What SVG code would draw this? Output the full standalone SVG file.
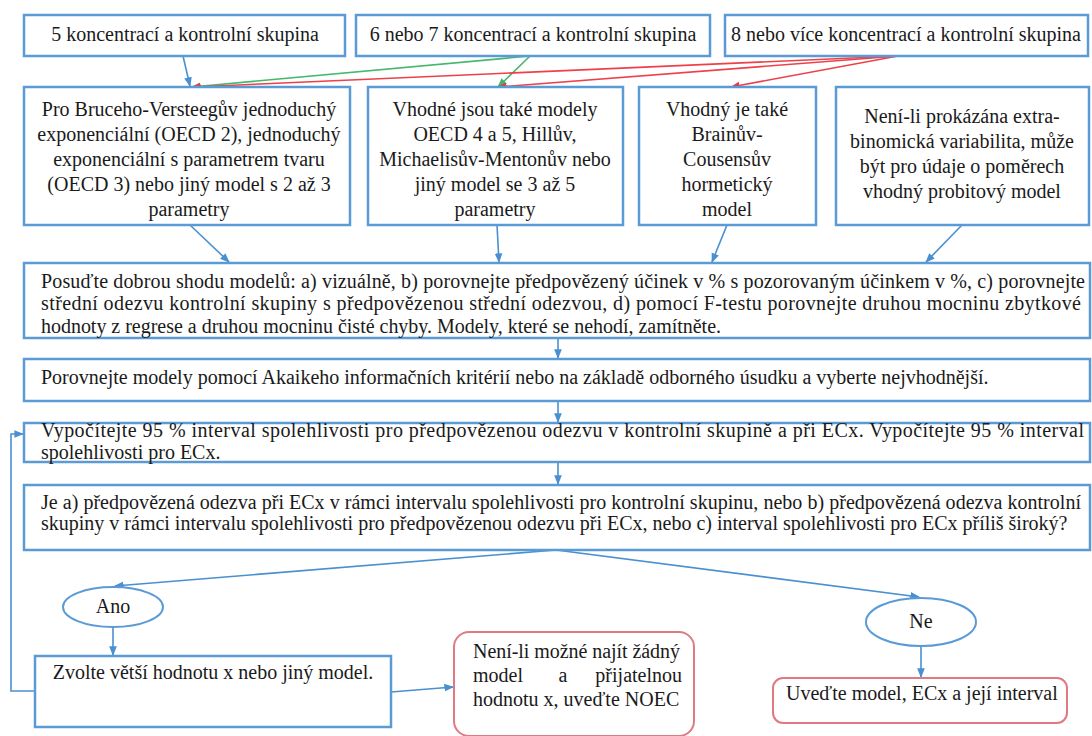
<svg xmlns="http://www.w3.org/2000/svg" width="1092" height="736" viewBox="0 0 1092 736">
<defs>
<marker id="ab" viewBox="0 0 10 10" refX="9" refY="5" markerWidth="6" markerHeight="6" orient="auto"><path d="M0,1 L10,5 L0,9 z" fill="#4a90d0"/></marker>
<marker id="ar" viewBox="0 0 10 10" refX="9" refY="5" markerWidth="6" markerHeight="6" orient="auto"><path d="M0,1 L10,5 L0,9 z" fill="#e8393f"/></marker>
<marker id="ag" viewBox="0 0 10 10" refX="9" refY="5" markerWidth="6" markerHeight="6" orient="auto"><path d="M0,1 L10,5 L0,9 z" fill="#3fb46a"/></marker>
<style>
.box{fill:#fff;stroke:#5b9bd5;stroke-width:2.5}
.rbox{fill:#fff;stroke:#e07a80;stroke-width:2}
.ell{fill:#fff;stroke:#5b9bd5;stroke-width:2}
.t{font-family:'Liberation Serif',serif;font-size:20px;fill:#1a1a1a}
.c{text-anchor:middle}
.lb{stroke:#4a90d0;stroke-width:1.6;fill:none}
.lr{stroke:#ee4048;stroke-width:1.6;fill:none}
.lg{stroke:#45b86c;stroke-width:1.6;fill:none}
</style>
</defs>
<rect width="1092" height="736" fill="#fff"/>
<g id="connectors">
<path class="lb" d="M183,56 L190,86" marker-end="url(#ab)"/>
<path class="lg" d="M530,56 L192,87" marker-end="url(#ag)"/>
<path class="lg" d="M530,56 L498,87" marker-end="url(#ag)"/>
<path class="lr" d="M898,56 L192,87" marker-end="url(#ar)"/>
<path class="lr" d="M898,56 L498,87" marker-end="url(#ar)"/>
<path class="lr" d="M898,56 L731,87" marker-end="url(#ar)"/>
<path class="lb" d="M190,225 L229,262" marker-end="url(#ab)"/>
<path class="lb" d="M497,225 L499,262" marker-end="url(#ab)"/>
<path class="lb" d="M727,225 L712,262" marker-end="url(#ab)"/>
<path class="lb" d="M962,225 L926,262" marker-end="url(#ab)"/>
<path class="lb" d="M558,338 L558,358" marker-end="url(#ab)"/>
<path class="lb" d="M558,401 L558,422" marker-end="url(#ab)"/>
<path class="lb" d="M558,462 L558,484" marker-end="url(#ab)"/>
<path class="lb" d="M556,550 L115,586" marker-end="url(#ab)"/>
<path class="lb" d="M556,550 L919,597" marker-end="url(#ab)"/>
<path class="lb" d="M113,627 L113,655" marker-end="url(#ab)"/>
<path class="lb" d="M921,646 L921,677" marker-end="url(#ab)"/>
<path class="lb" d="M391,692 L453,687" marker-end="url(#ab)"/>
<path class="lb" d="M35,691 L11,691 L11,434 L23,434" marker-end="url(#ab)"/>
</g>
<g font-family="Liberation Serif, serif">
<g id="n1"><rect class="box" x="24" y="15" width="321" height="41"/><text class="t c" x="185" y="41">5 koncentrací a kontrolní skupina</text></g>
<g id="n2"><rect class="box" x="356" y="15" width="354" height="41"/><text class="t c" x="533" y="41">6 nebo 7 koncentrací a kontrolní skupina</text></g>
<g id="n3"><rect class="box" x="725" y="15" width="363" height="41"/><text class="t c" x="906" y="41">8 nebo více koncentrací a kontrolní skupina</text></g>
<g id="nA"><rect class="box" x="24" y="87" width="326" height="138"/>
<text class="t c"><tspan x="189" y="116">Pro Bruceho-Versteegův jednoduchý</tspan><tspan x="189" y="141">exponenciální (OECD 2), jednoduchý</tspan><tspan x="189" y="166">exponenciální s parametrem tvaru</tspan><tspan x="189" y="191">(OECD 3) nebo jiný model s 2 až 3</tspan><tspan x="189" y="216">parametry</tspan></text></g>
<g id="nB"><rect class="box" x="368" y="87" width="255" height="138"/>
<text class="t c"><tspan x="495" y="116">Vhodné jsou také modely</tspan><tspan x="495" y="141">OECD 4 a 5, Hillův,</tspan><tspan x="495" y="166">Michaelisův-Mentonův nebo</tspan><tspan x="495" y="191">jiný model se 3 až 5</tspan><tspan x="495" y="216">parametry</tspan></text></g>
<g id="nC"><rect class="box" x="639" y="87" width="177" height="138"/>
<text class="t c"><tspan x="727" y="116">Vhodný je také</tspan><tspan x="727" y="141">Brainův-</tspan><tspan x="727" y="166">Cousensův</tspan><tspan x="727" y="191">hormetický</tspan><tspan x="727" y="216">model</tspan></text></g>
<g id="nD"><rect class="box" x="836" y="87" width="253" height="138"/>
<text class="t c"><tspan x="962" y="123">Není-li prokázána extra-</tspan><tspan x="962" y="148">binomická variabilita, může</tspan><tspan x="962" y="173">být pro údaje o poměrech</tspan><tspan x="962" y="198">vhodný probitový model</tspan></text></g>
<g id="nP"><rect class="box" x="24" y="263" width="1066" height="75"/>
<text class="t"><tspan x="41" y="288" textLength="1044" lengthAdjust="spacing">Posuďte dobrou shodu modelů: a) vizuálně, b) porovnejte předpovězený účinek v % s pozorovaným účinkem v %, c) porovnejte</tspan><tspan x="41" y="310" textLength="1040" lengthAdjust="spacing">střední odezvu kontrolní skupiny s předpovězenou střední odezvou, d) pomocí F-testu porovnejte druhou mocninu zbytkové</tspan><tspan x="41" y="333" textLength="680" lengthAdjust="spacing">hodnoty z regrese a druhou mocninu čisté chyby. Modely, které se nehodí, zamítněte.</tspan></text></g>
<g id="nQ"><rect class="box" x="24" y="359" width="1066" height="42"/>
<text class="t" x="41" y="384">Porovnejte modely pomocí Akaikeho informačních kritérií nebo na základě odborného úsudku a vyberte nejvhodnější.</text></g>
<g id="nV"><rect class="box" x="24" y="423" width="1066" height="39"/>
<text class="t"><tspan x="41" y="437" textLength="1043" lengthAdjust="spacing">Vypočítejte 95 % interval spolehlivosti pro předpovězenou odezvu v kontrolní skupině a při ECx. Vypočítejte 95 % interval</tspan><tspan x="41" y="459">spolehlivosti pro ECx.</tspan></text></g>
<g id="nJ"><rect class="box" x="24" y="485" width="1066" height="65"/>
<text class="t"><tspan x="41" y="509" textLength="1040" lengthAdjust="spacing">Je a) předpovězená odezva při ECx v rámci intervalu spolehlivosti pro kontrolní skupinu, nebo b) předpovězená odezva kontrolní</tspan><tspan x="41" y="530">skupiny v rámci intervalu spolehlivosti pro předpovězenou odezvu při ECx, nebo c) interval spolehlivosti pro ECx příliš široký?</tspan></text></g>
<g id="nAno"><ellipse class="ell" cx="113" cy="607" rx="50" ry="20"/><text class="t c" x="113" y="613">Ano</text></g>
<g id="nZ"><rect class="box" x="35" y="656" width="356" height="71"/><text class="t c" x="213" y="679">Zvolte větší hodnotu x nebo jiný model.</text></g>
<g id="nN"><rect class="rbox" x="454" y="632" width="240" height="104" rx="15"/>
<text class="t"><tspan x="473" y="658" textLength="207" lengthAdjust="spacing">Není-li možné najít žádný</tspan><tspan x="473" y="682">model</tspan><tspan x="563" y="682" text-anchor="middle">a</tspan><tspan x="682" y="682" text-anchor="end">přijatelnou</tspan><tspan x="473" y="706">hodnotu x, uveďte NOEC</tspan></text></g>
<g id="nNe"><ellipse class="ell" cx="921" cy="622" rx="55" ry="24"/><text class="t c" x="921" y="628">Ne</text></g>
<g id="nU"><rect class="rbox" x="773" y="678" width="294" height="45" rx="10"/><text class="t" x="786" y="700">Uveďte model, ECx a její interval</text></g>
</g>
</svg>
